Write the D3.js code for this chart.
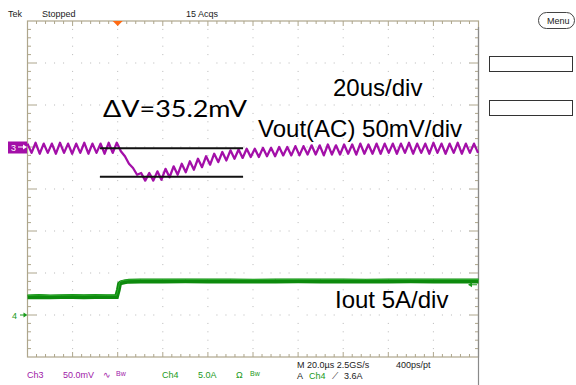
<!DOCTYPE html>
<html><head><meta charset="utf-8">
<script src="https://cdn.jsdelivr.net/npm/d3@7"></script>
<style>body{margin:0;background:#fff}svg{display:block}</style>
</head><body><svg id="c" width="576" height="385"></svg>
<script>
// time axis in microseconds (20 us/div, trigger 2 divs from left)
const timeDomain = [-40, 160];
// Ch3 Vout (AC), mV, 50 mV/div, ground marker at 0
const voutDomain = [-250, 150];
const voutT = [-40,-38.2,-36.4,-34.6,-32.8,-31,-29.2,-27.4,-25.6,-23.8,-22,-20.2,-18.4,-16.6,-14.8,-13,-11.2,-9.4,-7.6,-5.8,-4,-2.2,-0.4,1.4,3.2,5,6.8,8.6,10.4,12.2,14,15.8,17.6,19.4,21.2,23,24.8,26.6,28.4,30.2,32,33.8,35.6,37.4,39.2,41,42.8,44.6,46.4,48.2,50,51.8,53.6,55.4,57.2,59,60.8,62.6,64.4,66.2,68,69.8,71.6,73.4,75.2,77,78.8,80.6,82.4,84.2,86,87.8,89.6,91.4,93.2,95,96.8,98.6,100.4,102.2,104,105.8,107.6,109.4,111.2,113,114.8,116.6,118.4,120.2,122,123.8,125.6,127.4,129.2,131,132.8,134.6,136.4,138.2,140,141.8,143.6,145.4,147.2,149,150.8,152.6,154.4,156.2,158,159.8];
const voutV = [4,-7,5,-8,4,-7,4,-8,5,-7,4,-8,4,-7,5,-8,4,-7,4,-8,5,-7,5,
  -5,-11,-20,-25,-33,-31,-40,-31,-40,-29,-39,-26,-36,-23,-33,-20,-30,-17,-27,-14,-24,-11,-21,-8,-18,-6,-16,-4,-14,-3,-13,-2,-12,-2,-12,-1,-11,-1,-11,0,-10,0,-10,1,-10,1,-9,2,-9,2,-10,3,-9,2,-9,3,-8,3,-9,4,-8,3,-8,4,-8,4,-7,4,-8,4,-7,5,-8,4,-7,4,-8,5,-7,4,-8,4,-7,5,-8,4,-7,4,-7];
// Ch4 Iout, A, 5 A/div
const ioutDomain = [-5, 35];
const ioutT = [-40,-35,-30,-25,-20,-15,-10,-5,-0.5,0.3,0.8,1.5,3,5,10,20,30,40,50,60,70,80,90,100,110,120,130,140,150,160];
const ioutV = [2.15,2.2,2.15,2.18,2.2,2.17,2.2,2.18,2.18,3.0,3.7,3.85,3.95,4.02,4.05,4.05,4.06,4.05,4.05,4.04,4.05,4.06,4.05,4.05,4.04,4.05,4.06,4.05,4.05,4.05];
const triggerLevel = 3.6;
// delta-V cursors (mV) and their time span (us)
const cursorV = [-1.5, -35.5];
const cursorT = [-7.9, 55.6];
// text
const annotations = ["ΔV=35.2mV", "20us/div", "Vout(AC) 50mV/div", "Iout 5A/div"];

const svg = d3.select("#c");
const L = 27.5, R = 478.5, T = 21, B = 357;
const x = d3.scaleLinear().domain(timeDomain).range([L, R]);
const yV = d3.scaleLinear().domain(voutDomain).range([B, T]);
const yI = d3.scaleLinear().domain(ioutDomain).range([B, T]);
const gx = d3.scaleLinear().domain([0, 10]).range([L, R]);
const gy = d3.scaleLinear().domain([0, 8]).range([T, B]);
const frame = "#aea68c", dot = "#b8b8b8";

// grid dots along major lines
const g = svg.append("g");
for (let i = 1; i < 10; i++) for (let j = 1; j < 40; j++) {
  if (j % 5 === 0) continue;
  g.append("rect").attr("x", gx(i) - 0.5).attr("y", gy(j / 5) - 0.5).attr("width", 1).attr("height", 1).attr("fill", dot);
}
for (let j = 1; j < 8; j++) for (let i = 1; i < 50; i++) {
  if (i % 5 === 0) continue;
  g.append("rect").attr("x", gx(i / 5) - 0.5).attr("y", gy(j) - 0.5).attr("width", 1).attr("height", 1).attr("fill", dot);
}
// frame
g.append("rect").attr("x", L).attr("y", T).attr("width", R - L).attr("height", B - T).attr("fill", "none").attr("stroke", frame).attr("stroke-width", 1.2);
// edge ticks
for (let i = 1; i < 50; i++) {
  const len = i % 5 === 0 ? 5 : 3;
  g.append("line").attr("x1", gx(i / 5)).attr("x2", gx(i / 5)).attr("y1", T).attr("y2", T + len).attr("stroke", frame);
  g.append("line").attr("x1", gx(i / 5)).attr("x2", gx(i / 5)).attr("y1", B).attr("y2", B - len).attr("stroke", frame);
}
for (let j = 1; j < 40; j++) {
  const len = j % 5 === 0 ? 9 : 3.5;
  g.append("line").attr("y1", gy(j / 5)).attr("y2", gy(j / 5)).attr("x1", L).attr("x2", L + len).attr("stroke", frame);
  g.append("line").attr("y1", gy(j / 5)).attr("y2", gy(j / 5)).attr("x1", R).attr("x2", R - len).attr("stroke", frame);
}
// right side dark line
g.append("line").attr("x1", R).attr("x2", R).attr("y1", 27).attr("y2", 385).attr("stroke", "#8a8a8a").attr("stroke-width", 1.2);

// traces
const vLine = d3.line().x((d, i) => x(voutT[i])).y(d => yV(d));
svg.append("path").attr("d", vLine(voutV)).attr("fill", "none").attr("stroke", "#a30fa8").attr("stroke-width", 2.3).attr("stroke-linejoin", "round");
const iLine = d3.line().x((d, i) => x(ioutT[i])).y(d => yI(d));
svg.append("path").attr("d", iLine(ioutV)).attr("fill", "none").attr("stroke", "#0d8a0d").attr("stroke-width", 4.8);
svg.append("path").attr("d", iLine(ioutV)).attr("fill", "none").attr("stroke", "#2cab2c").attr("stroke-width", 1).attr("transform", "translate(0,-1.5)");

// cursors
cursorV.forEach(v => svg.append("line").attr("x1", x(cursorT[0])).attr("x2", x(cursorT[1])).attr("y1", yV(v)).attr("y2", yV(v)).attr("stroke", "#111").attr("stroke-width", 2));

// channel markers
const m3 = yV(0);
svg.append("rect").attr("x", 8).attr("y", m3 - 5.5).attr("width", 19).attr("height", 12).attr("fill", "#a30fa8");
svg.append("text").attr("x", 11).attr("y", m3 + 3.5).attr("fill", "#fff").attr("font-family", "Liberation Sans, Arial").attr("font-size", 9).text("3");
svg.append("line").attr("x1", 18).attr("x2", 24).attr("y1", m3).attr("y2", m3).attr("stroke", "#fff");
svg.append("path").attr("d", `M27,${m3} l-4,-2.5 v5 z`).attr("fill", "#fff");
const m4 = yI(0);
svg.append("text").attr("x", 12).attr("y", m4 + 3.5).attr("fill", "#1a9a1a").attr("font-family", "Liberation Sans, Arial").attr("font-size", 9).text("4");
svg.append("line").attr("x1", 20).attr("x2", 25).attr("y1", m4).attr("y2", m4).attr("stroke", "#1a9a1a");
svg.append("path").attr("d", `M27.5,${m4} l-4,-2.5 v5 z`).attr("fill", "#1a9a1a");
// trigger level marker (right)
const tl = yI(triggerLevel);
svg.append("line").attr("x1", 470).attr("x2", 477).attr("y1", tl).attr("y2", tl).attr("stroke", "#1a9a1a");
svg.append("path").attr("d", `M468,${tl} l4,-2.5 v5 z`).attr("fill", "#1a9a1a");
// trigger position marker (top)
svg.append("path").attr("d", `M${x(0) - 5},21 h10 l-5,5 z`).attr("fill", "#ff6a13");

// header
const sf = "Liberation Sans, Arial, sans-serif";
const hdr = [["Tek", 8], ["Stopped", 42], ["15 Acqs", 186]];
hdr.forEach(([t, xx]) => svg.append("text").attr("x", xx).attr("y", 17).attr("font-family", sf).attr("font-size", 9).attr("fill", "#222").text(t));
// menu button
svg.append("rect").attr("x", 538.5).attr("y", 12.5).attr("width", 36).attr("height", 16).attr("rx", 8).attr("fill", "#fff").attr("stroke", "#444");
svg.append("text").attr("x", 547).attr("y", 24).attr("font-family", sf).attr("font-size", 9).attr("fill", "#222").text("Menu");
// side boxes
[56.5, 100.5].forEach(yy => svg.append("rect").attr("x", 489.5).attr("y", yy).attr("width", 83).attr("height", 15).attr("fill", "#fff").attr("stroke", "#333"));

// footer
const P = "#a020a8", G = "#1a9a1a", K = "#222";
const foot = [["Ch3", 27, 378, P], ["50.0mV", 63, 378, P], ["∿", 103, 378, P], ["Ch4", 162, 378, G], ["5.0A", 198, 378, G], ["Ω", 236, 378, G],
  ["M 20.0µs 2.5GS/s", 297, 368, K], ["400ps/pt", 396, 368, K], ["A", 297, 379, K], ["Ch4", 309, 379, G], ["⟋", 332, 379, K], ["3.6A", 344, 379, K]];
foot.forEach(([t, xx, yy, c]) => svg.append("text").attr("x", xx).attr("y", yy).attr("font-family", sf).attr("font-size", 9).attr("fill", c).text(t));
[["Bw", 116, P], ["Bw", 250, G]].forEach(([t, xx, c]) => svg.append("text").attr("x", xx).attr("y", 375.5).attr("font-family", sf).attr("font-size", 7).attr("fill", c).text(t));

// annotations
svg.append("text").attr("x", 103).attr("y", 117).attr("font-family", "Lato, 'Open Sans', sans-serif").attr("font-size", 24).attr("textLength", 144).attr("lengthAdjust", "spacingAndGlyphs").attr("fill", "#000").text(annotations[0]);
[[annotations[1], 333, 96], [annotations[2], 258, 137], [annotations[3], 335, 308]].forEach(([t, xx, yy]) =>
  svg.append("text").attr("x", xx).attr("y", yy).attr("font-family", sf).attr("font-size", 24).attr("fill", "#000").text(t));
</script></body></html>
